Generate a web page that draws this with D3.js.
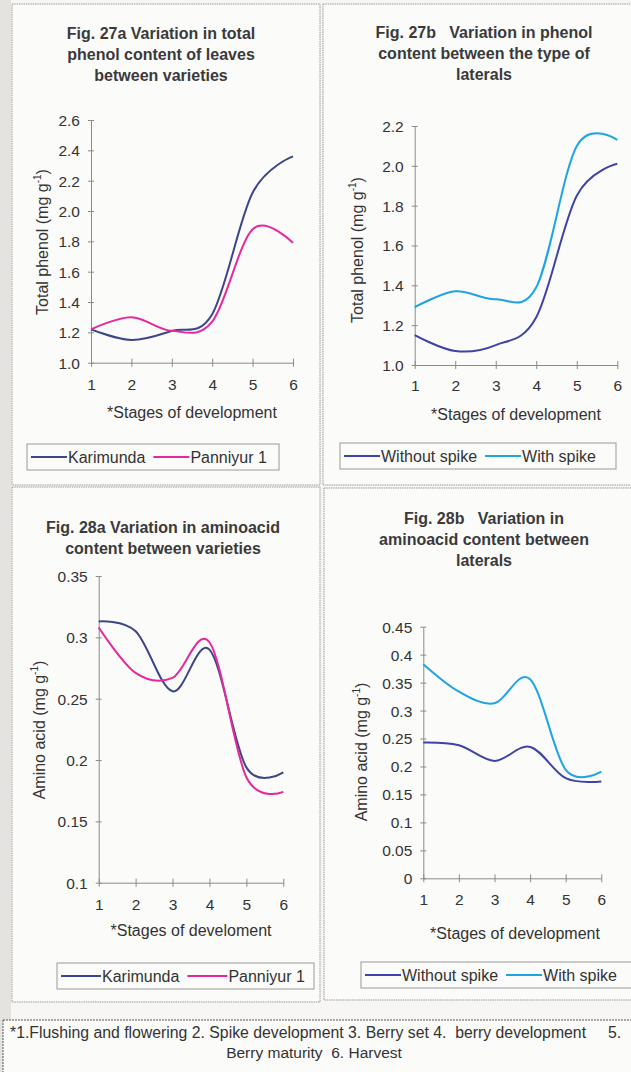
<!DOCTYPE html>
<html>
<head>
<meta charset="utf-8">
<script src="https://cdn.jsdelivr.net/npm/d3@7/dist/d3.min.js"></script>
<style>
  html, body { margin: 0; padding: 0; background: #f7f6f3; }
  svg { display: block; }
  text { font-family: "Liberation Sans", Arial, sans-serif; fill: #2a2a2a; }
  .title { font-weight: bold; font-size: 16px; fill: #3a3a3a; }
  .tick text { font-size: 15.5px; fill: #333; }
  .lbl { font-size: 16px; fill: #333; }
  .leg { font-size: 16px; fill: #333; }
  .foot { font-size: 15.5px; fill: #333; }
</style>
</head>
<body>
<svg id="chart" width="631" height="1072"></svg>
<script>
// Development stages on the x axis
const stages = [1, 2, 3, 4, 5, 6];

// Fig. 27a – total phenol (mg/g) by variety
const phenolKarimunda = [1.22, 1.15, 1.21, 1.32, 2.12, 2.36];
const phenolPanniyur  = [1.22, 1.30, 1.21, 1.27, 1.88, 1.79];
const phenolVarTicks  = [1.0, 1.2, 1.4, 1.6, 1.8, 2.0, 2.2, 2.4, 2.6];

// Fig. 27b – total phenol (mg/g) by type of lateral
const phenolWithout = [1.15, 1.07, 1.10, 1.24, 1.85, 2.01];
const phenolWith    = [1.29, 1.37, 1.33, 1.39, 2.10, 2.13];
const phenolLatTicks = [1.0, 1.2, 1.4, 1.6, 1.8, 2.0, 2.2];

// Fig. 28a – amino acid (mg/g) by variety
const aminoKarimunda = [0.313, 0.305, 0.256, 0.290, 0.194, 0.190];
const aminoPanniyur  = [0.308, 0.271, 0.267, 0.296, 0.186, 0.174];
const aminoVarTicks  = [0.1, 0.15, 0.2, 0.25, 0.3, 0.35];
const aminoVarTickLabels = ["0.1", "0.15", "0.2", "0.25", "0.3", "0.35"];

// Fig. 28b – amino acid (mg/g) by type of lateral
const aminoWithout = [0.243, 0.238, 0.210, 0.235, 0.179, 0.173];
const aminoWith    = [0.383, 0.334, 0.313, 0.356, 0.194, 0.191];
const aminoLatTicks = [0, 0.05, 0.1, 0.15, 0.2, 0.25, 0.3, 0.35, 0.4, 0.45];
const aminoLatTickLabels = ["0", "0.05", "0.1", "0.15", "0.2", "0.25", "0.3", "0.35", "0.4", "0.45"];

const footnoteLines = [
  "*1.Flushing and flowering 2. Spike development 3. Berry set 4.  berry development     5.",
  "Berry maturity  6. Harvest"
];

const C = {
  karimunda: "#3d4688",
  panniyur: "#e6289c",
  without: "#3f43a8",
  withSpike: "#1ea3e4",
  axis: "#8a8a8a",
  frame: "#9a9a9a"
};

const svg = d3.select("#chart");

// scan edge strip and panel frames
svg.append("rect").attr("x", 0).attr("y", 0).attr("width", 11).attr("height", 1072).attr("fill", "#e4e3e0");
const frames = [
  [12, 4, 308, 481],
  [323, 4, 320, 481],
  [12, 487, 308, 515],
  [324, 488, 320, 512]
];
frames.forEach(f => {
  svg.append("rect").attr("x", f[0]).attr("y", f[1]).attr("width", f[2]).attr("height", f[3])
    .attr("fill", "#fbfbfa").attr("stroke", C.frame).attr("stroke-width", 1)
    .attr("stroke-dasharray", "1.5,0.8");
});

function panel(cfg) {
  const g = svg.append("g");
  const x = d3.scaleLinear().domain([1, 6]).range([cfg.x0, cfg.x1]);
  const y = d3.scaleLinear().domain(cfg.yDomain).range([cfg.yBottom, cfg.yTop]);

  // title
  cfg.title.forEach((t, i) => {
    g.append("text").attr("class", "title").attr("text-anchor", "middle")
      .attr("x", cfg.titleX).attr("y", cfg.titleY + i * 21).style("white-space", "pre").text(t);
  });

  // y axis
  const ya = g.append("g").attr("transform", `translate(${cfg.x0},0)`)
    .call(d3.axisLeft(y).tickValues(cfg.yTicks).tickFormat((d, i) => cfg.yLabels[i]).tickSize(0).tickPadding(11));
  ya.select(".domain").attr("stroke", C.axis);
  ya.selectAll(".tick line").attr("x1", -3).attr("x2", 3).attr("stroke", C.axis);
  ya.selectAll(".tick text").attr("dy", "0.35em");

  // x axis
  const xa = g.append("g").attr("transform", `translate(0,${cfg.yBottom})`)
    .call(d3.axisBottom(x).tickValues(stages).tickFormat(d3.format("d")).tickSize(0).tickPadding(cfg.xPad));
  xa.select(".domain").attr("stroke", C.axis);
  xa.selectAll(".tick line").attr("y1", -4).attr("y2", 4).attr("stroke", C.axis);

  // axis titles
  g.append("text").attr("class", "lbl").attr("text-anchor", "middle")
    .attr("x", cfg.xLabelX).attr("y", cfg.xLabelY).text(cfg.xLabel);
  const yl = g.append("text").attr("class", "lbl").attr("text-anchor", "middle")
    .attr("transform", `translate(${cfg.yLabelX},${cfg.yLabelY}) rotate(-90)`);
  yl.append("tspan").text(cfg.yLabel + " (mg g");
  yl.append("tspan").attr("dy", -7).attr("font-size", "10px").text("-1");
  yl.append("tspan").attr("dy", 7).text(")");

  // series
  const line = d3.line().x((d, i) => x(stages[i])).y(d => y(d)).curve(d3.curveCardinal.tension(0));
  cfg.series.forEach(s => {
    g.append("path").datum(s.values).attr("fill", "none").attr("stroke", s.color)
      .attr("stroke-width", 2).attr("d", line);
  });

  // legend
  const L = cfg.legend;
  g.append("rect").attr("x", L.x).attr("y", L.y).attr("width", L.w).attr("height", 26)
    .attr("fill", "none").attr("stroke", C.frame).attr("stroke-width", 1);
  let cx = L.x + 4;
  cfg.series.forEach((s, i) => {
    g.append("line").attr("x1", cx).attr("x2", cx + L.sw).attr("y1", L.y + 13).attr("y2", L.y + 13)
      .attr("stroke", s.color).attr("stroke-width", 2);
    const t = g.append("text").attr("class", "leg").attr("x", cx + L.sw + 1).attr("y", L.y + 19).text(s.name);
    cx += L.sw + 1 + t.node().getComputedTextLength() + L.gap;
  });
}

panel({
  title: ["Fig. 27a Variation in total", "phenol content of leaves", "between varieties"],
  titleX: 161, titleY: 39,
  x0: 91, x1: 293, yTop: 120, yBottom: 362.7,
  yDomain: [1.0, 2.6], yTicks: phenolVarTicks, yLabels: phenolVarTicks.map(d3.format(".1f")),
  xPad: 16, xLabel: "*Stages of development", xLabelX: 192, xLabelY: 418,
  yLabel: "Total phenol", yLabelX: 48, yLabelY: 242,
  series: [
    { name: "Karimunda", values: phenolKarimunda, color: C.karimunda },
    { name: "Panniyur 1", values: phenolPanniyur, color: C.panniyur }
  ],
  legend: { x: 27, y: 444, w: 252, sw: 36, gap: 8 }
});

panel({
  title: ["Fig. 27b   Variation in phenol", "content between the type of", "laterals"],
  titleX: 484, titleY: 38,
  x0: 414.7, x1: 617.3, yTop: 126, yBottom: 365,
  yDomain: [1.0, 2.2], yTicks: phenolLatTicks, yLabels: phenolLatTicks.map(d3.format(".1f")),
  xPad: 15, xLabel: "*Stages of development", xLabelX: 516, xLabelY: 420,
  yLabel: "Total phenol", yLabelX: 363, yLabelY: 250,
  series: [
    { name: "Without spike", values: phenolWithout, color: C.without },
    { name: "With spike", values: phenolWith, color: C.withSpike }
  ],
  legend: { x: 340, y: 443, w: 276, sw: 36, gap: 8 }
});

panel({
  title: ["Fig. 28a Variation in aminoacid", "content between varieties"],
  titleX: 163, titleY: 533,
  x0: 98.7, x1: 283.3, yTop: 576, yBottom: 882.7,
  yDomain: [0.1, 0.35], yTicks: aminoVarTicks, yLabels: aminoVarTickLabels,
  xPad: 16, xLabel: "*Stages of develoment", xLabelX: 191, xLabelY: 936,
  yLabel: "Amino acid", yLabelX: 45, yLabelY: 730,
  series: [
    { name: "Karimunda", values: aminoKarimunda, color: C.karimunda },
    { name: "Panniyur 1", values: aminoPanniyur, color: C.panniyur }
  ],
  legend: { x: 57, y: 963, w: 257, sw: 40, gap: 8 }
});

panel({
  title: ["Fig. 28b   Variation in", "aminoacid content between", "laterals"],
  titleX: 484, titleY: 524,
  x0: 423.3, x1: 601.3, yTop: 626.7, yBottom: 878.3,
  yDomain: [0, 0.45], yTicks: aminoLatTicks, yLabels: aminoLatTickLabels,
  xPad: 16, xLabel: "*Stages of development", xLabelX: 515, xLabelY: 939,
  yLabel: "Amino acid", yLabelX: 367, yLabelY: 752,
  series: [
    { name: "Without spike", values: aminoWithout, color: C.without },
    { name: "With spike", values: aminoWith, color: C.withSpike }
  ],
  legend: { x: 361, y: 962, w: 272, sw: 36, gap: 8 }
});

// footnote box
svg.append("rect").attr("x", 3).attr("y", 1020).attr("width", 640).attr("height", 60)
  .attr("fill", "#fbfbfa").attr("stroke", "#555").attr("stroke-width", 1).attr("stroke-dasharray", "2,1");
svg.append("text").attr("class", "foot").attr("x", 10).attr("y", 1038)
  .style("font-size", "15.8px").style("white-space", "pre").text(footnoteLines[0]);
svg.append("text").attr("class", "foot").attr("text-anchor", "middle").attr("x", 314).attr("y", 1058)
  .style("white-space", "pre").text(footnoteLines[1]);
</script>
</body>
</html>
